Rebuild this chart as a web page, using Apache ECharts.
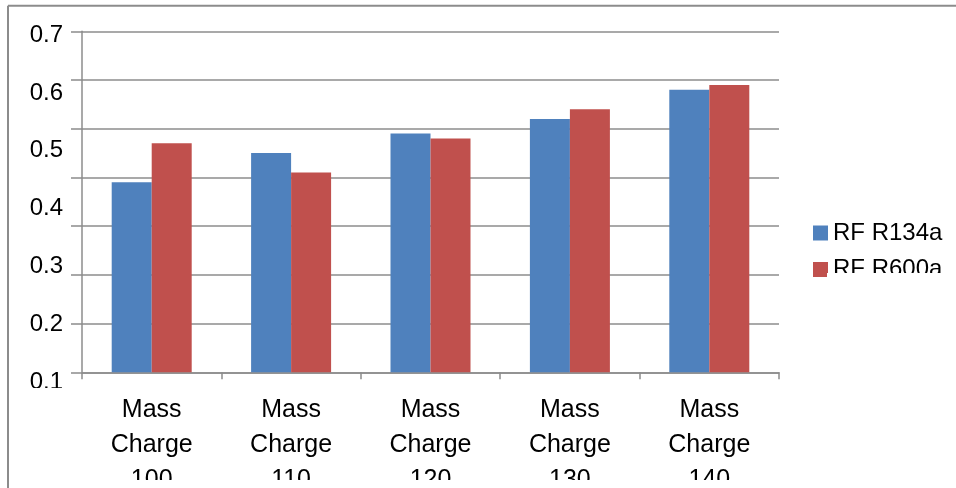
<!DOCTYPE html>
<html>
<head>
<meta charset="utf-8">
<script src="https://cdn.jsdelivr.net/npm/echarts@6/dist/echarts.min.js"></script>
<style>
html,body{margin:0;padding:0;background:#fff;}
#c{width:956px;height:488px;}
</style>
</head>
<body>
<div id="c"></div>
<script>
var categories = ['Mass Charge 100', 'Mass Charge 110', 'Mass Charge 120', 'Mass Charge 130', 'Mass Charge 140'];
var seriesNames = ['RF R134a', 'RF R600a'];
var r134a = [0.39, 0.45, 0.49, 0.52, 0.58];
var r600a = [0.47, 0.41, 0.48, 0.54, 0.59];
var yTickLabels = [0.1, 0.2, 0.3, 0.4, 0.5, 0.6, 0.7];

var gray = '#8c8c8c';
var font = 'Liberation Sans, Arial, sans-serif';

var chart = echarts.init(document.getElementById('c'));
chart.setOption({
  animation: false,
  backgroundColor: '#fff',
  color: ['#4F81BD', '#C0504D'],
  grid: [
    {left: 82, right: 177, top: 31.3, bottom: 115.7, outerBoundsMode: 'none', containLabel: false},
    {left: 82, right: 177, top: 35, bottom: 105.5, outerBoundsMode: 'none', containLabel: false}
  ],
  legend: {
    orient: 'vertical',
    left: 808,
    top: 216,
    itemWidth: 15,
    itemHeight: 15,
    itemGap: 12.5,
    icon: 'rect',
    data: seriesNames,
    textStyle: {fontFamily: font, fontSize: 24, color: '#000', lineHeight: 24}
  },
  xAxis: [
    {
      type: 'category',
      gridIndex: 0,
      data: categories,
      axisLine: {lineStyle: {color: gray, width: 1.5}},
      axisTick: {show: true, length: 7, lineStyle: {color: gray, width: 1.5}},
      axisLabel: {
        interval: 0,
        margin: 20,
        fontFamily: font,
        fontSize: 25,
        lineHeight: 35,
        color: '#000',
        formatter: function (v) { return v.split(' ').join('\n'); }
      },
      splitLine: {show: false}
    },
    {
      type: 'category',
      gridIndex: 1,
      data: categories,
      show: false
    }
  ],
  yAxis: [
    {
      type: 'value',
      gridIndex: 0,
      min: 0,
      max: 0.7,
      interval: 0.1,
      axisLine: {show: true, lineStyle: {color: gray, width: 1.5}},
      axisTick: {show: true, length: 11, lineStyle: {color: gray, width: 1.5}},
      axisLabel: {show: false},
      splitLine: {show: true, lineStyle: {color: gray, width: 1.5}}
    },
    {
      type: 'value',
      gridIndex: 1,
      min: 0.1,
      max: 0.7,
      interval: 0.1,
      axisLine: {show: false},
      axisTick: {show: false},
      splitLine: {show: false},
      axisLabel: {
        show: true,
        margin: 19,
        fontFamily: font,
        fontSize: 24,
        color: '#000',
        formatter: function (v) {
          for (var i = 0; i < yTickLabels.length; i++) {
            if (Math.abs(yTickLabels[i] - v) < 1e-6) return yTickLabels[i].toFixed(1);
          }
          return '';
        }
      }
    }
  ],
  series: [
    {name: seriesNames[0], type: 'bar', xAxisIndex: 0, yAxisIndex: 0, data: r134a, barWidth: 40, barGap: '0%'},
    {name: seriesNames[1], type: 'bar', xAxisIndex: 0, yAxisIndex: 0, data: r600a, barWidth: 40, barGap: '0%'}
  ],
  graphic: [
    {type: 'rect', z: 100, shape: {x: 15, y: 388, width: 55, height: 9}, style: {fill: '#fff'}},
    {type: 'rect', z: 100, shape: {x: 827, y: 273, width: 129, height: 30}, style: {fill: '#fff'}},
    {type: 'rect', z: 100, shape: {x: 15, y: 480, width: 941, height: 8}, style: {fill: '#fff'}},
    {type: 'line', z: 101, shape: {x1: 8, y1: 5.7, x2: 956, y2: 5.7}, style: {stroke: gray, lineWidth: 2}},
    {type: 'line', z: 101, shape: {x1: 8, y1: 5.7, x2: 8, y2: 488}, style: {stroke: gray, lineWidth: 2}}
  ]
});
</script>
</body>
</html>
